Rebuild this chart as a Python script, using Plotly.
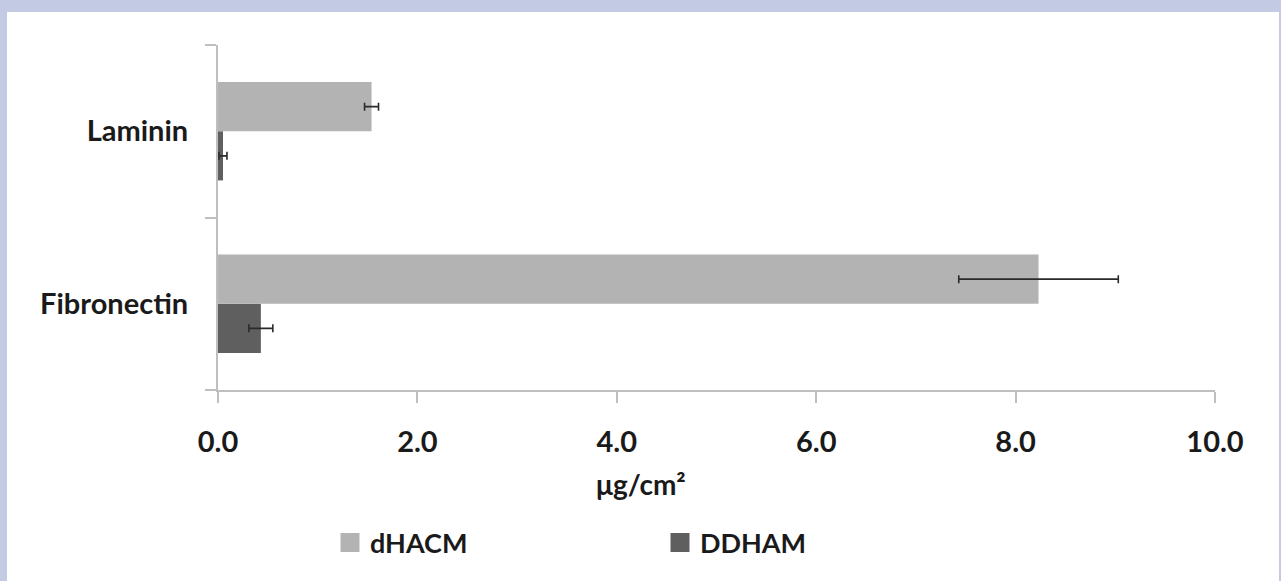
import plotly.graph_objects as go

categories = ["Fibronectin", "Laminin"]
series_names = ["dHACM", "DDHAM"]
dhacm_values = [8.23, 1.54]
dhacm_errors = [0.80, 0.07]
ddham_values = [0.43, 0.05]
ddham_errors = [0.12, 0.04]
x_tick_values = [0, 2, 4, 6, 8, 10]
x_tick_labels = ["0.0", "2.0", "4.0", "6.0", "8.0", "10.0"]
x_title = "μg/cm²"

C_LIGHT = "#b3b3b3"
C_DARK = "#5f5f5f"
AXIS_C = "#bfbfbf"
TXT = "#1a1a1a"
FONT = "Lato"

W, H = 1281, 581
L, R, T, B = 218, 66, 45, 191
PW, PH = W - L - R, H - T - B


def px_x(p):
    return (p - L) / PW


def px_y(p):
    return (H - B - p) / PH


fig = go.Figure()

# DDHAM first so it sits below dHACM within each group
fig.add_trace(go.Bar(
    y=categories, x=ddham_values, orientation="h", name=series_names[1],
    marker=dict(color=C_DARK, line=dict(width=0)),
    error_x=dict(type="data", array=ddham_errors, visible=True,
                 color="#2a2a2a", thickness=1.6, width=4),
    showlegend=False,
))
fig.add_trace(go.Bar(
    y=categories, x=dhacm_values, orientation="h", name=series_names[0],
    marker=dict(color=C_LIGHT, line=dict(width=0)),
    error_x=dict(type="data", array=dhacm_errors, visible=True,
                 color="#2a2a2a", thickness=1.6, width=4),
    showlegend=False,
))

# legend entries
for nm, col in [(series_names[0], C_LIGHT), (series_names[1], C_DARK)]:
    fig.add_trace(go.Scatter(
        x=[None], y=[None], mode="markers", name=nm,
        marker=dict(symbol="square", size=16, color=col,
                    line=dict(color=col, width=3)),
        showlegend=True,
    ))

# white panel with blue frame
fig.add_shape(type="rect", xref="paper", yref="paper", layer="below",
              x0=px_x(7), x1=px_x(1279), y0=px_y(585), y1=px_y(12),
              fillcolor="white", line=dict(width=0))

fig.add_annotation(text=x_title, xref="paper", yref="paper",
                   x=px_x(641), y=px_y(484), xanchor="center", yanchor="middle",
                   showarrow=False,
                   font=dict(family=FONT, size=28, color=TXT, weight="bold"))

fig.update_layout(
    width=W, height=H,
    margin=dict(l=L, r=R, t=T, b=B, pad=0),
    paper_bgcolor="#c3cae3",
    plot_bgcolor="white",
    barmode="group",
    bargap=0.43,
    bargroupgap=0,
    font=dict(family=FONT, size=29, color=TXT, weight="bold"),
    legend=dict(orientation="h", x=px_x(330), y=px_y(543),
                xanchor="left", yanchor="middle",
                bgcolor="rgba(0,0,0,0)", entrywidth=285,
                font=dict(family=FONT, size=27, color=TXT, weight="bold"),
                itemclick=False),
    xaxis=dict(range=[0, 10], tickvals=x_tick_values, ticktext=x_tick_labels,
               showgrid=False, zeroline=False, showline=True,
               linecolor=AXIS_C, linewidth=2, ticks="outside",
               ticklen=11, tickwidth=2, tickcolor=AXIS_C,
               ticklabelstandoff=14,
               tickfont=dict(family=FONT, size=29, color=TXT, weight="bold"),
               fixedrange=True),
    yaxis=dict(categoryorder="array", categoryarray=categories,
               range=[-0.5, 1.5], showgrid=False, zeroline=False,
               showline=True, linecolor=AXIS_C, linewidth=2,
               ticks="outside", tickson="boundaries", ticklen=11,
               tickwidth=2, tickcolor=AXIS_C, ticklabelstandoff=22,
               tickfont=dict(family=FONT, size=29, color=TXT, weight="bold"),
               fixedrange=True),
)

fig.write_html("out.html")
